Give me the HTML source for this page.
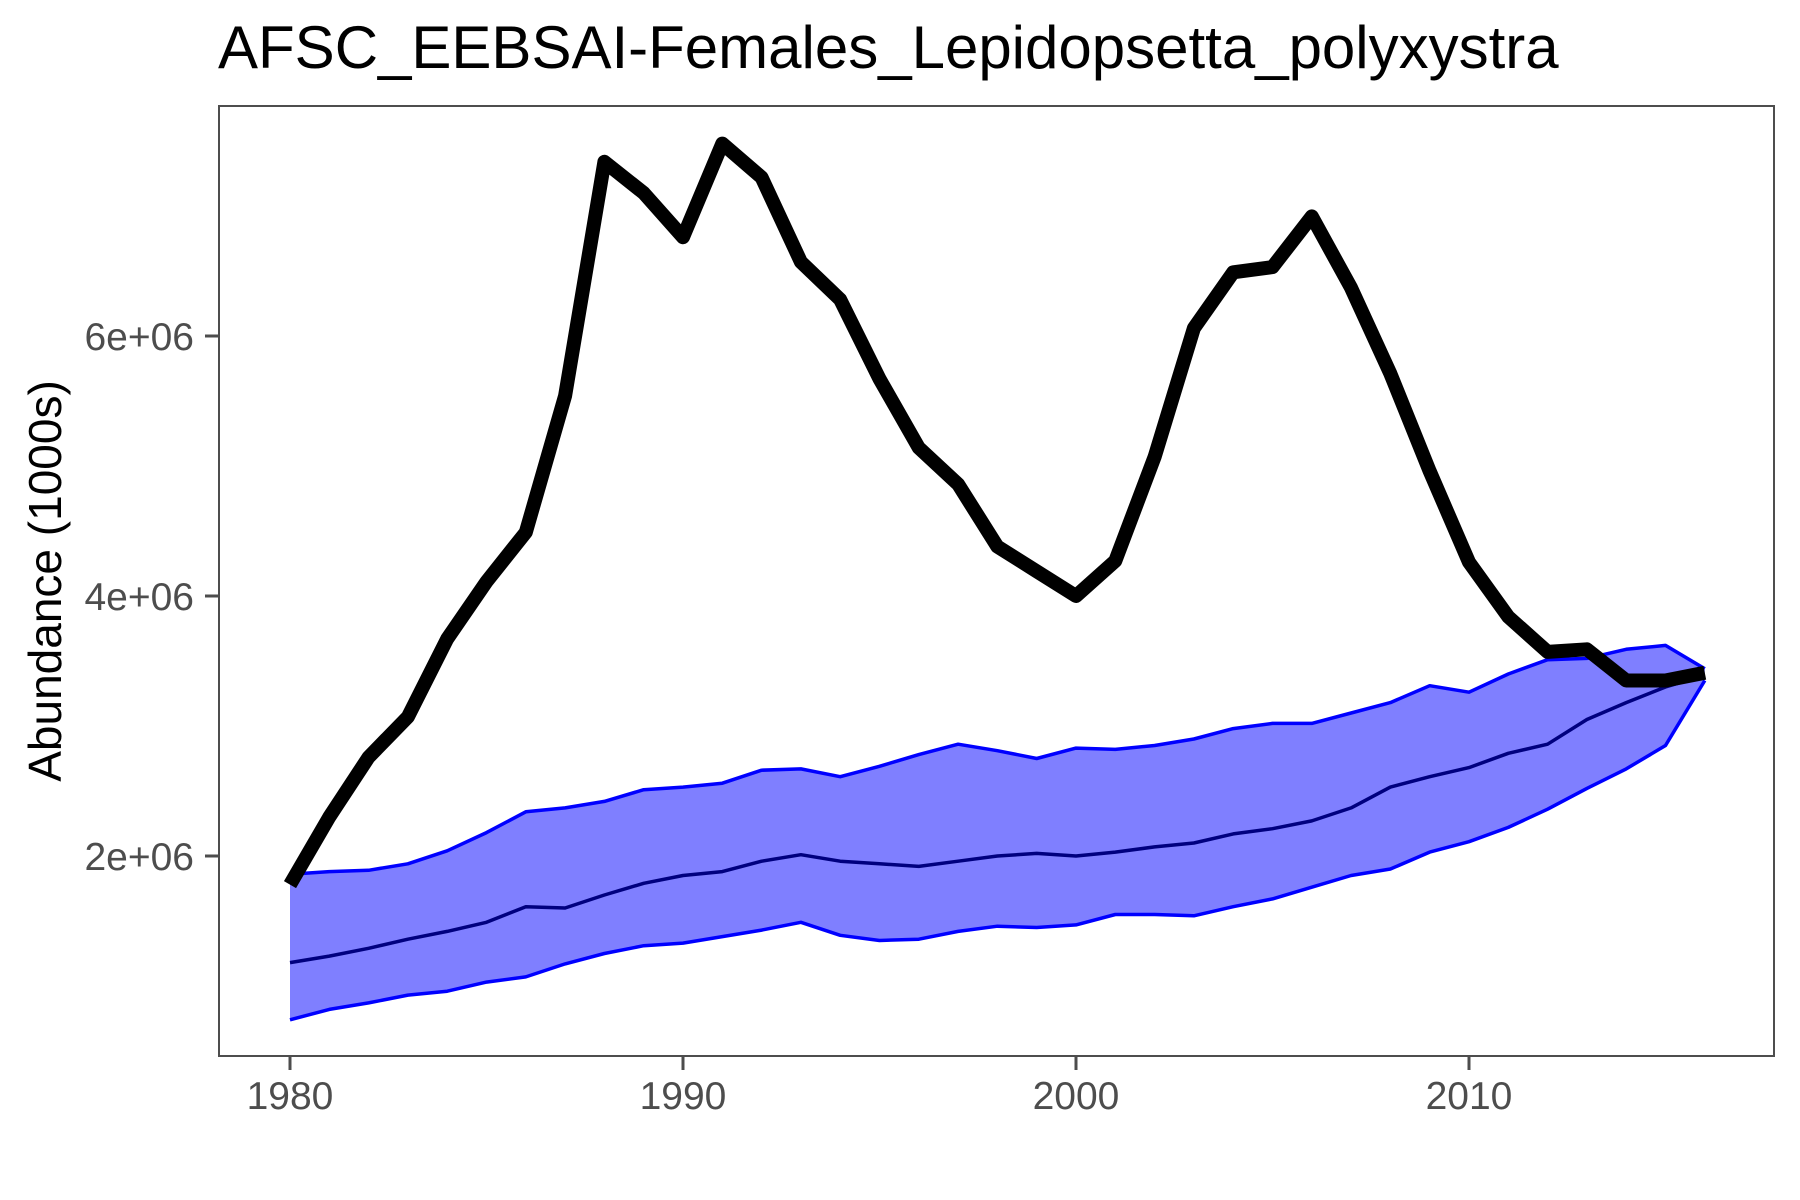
<!DOCTYPE html>
<html><head><meta charset="utf-8"><style>
html,body{margin:0;padding:0;background:#fff;}
svg{display:block;font-family:"Liberation Sans",Arial,sans-serif;}
</style></head><body>
<svg id="chart" width="1800" height="1200" viewBox="0 0 1800 1200">
<text x="218" y="68" font-size="60" fill="#000">AFSC_EEBSAI-Females_Lepidopsetta_polyxystra</text>
<rect x="219" y="106" width="1555" height="950" fill="#fff" stroke="#4d4d4d" stroke-width="2"/>
<g id="band"></g>
<g id="lines"></g>
<g id="yaxis"></g>
<g id="xaxis"></g>
<text transform="translate(61,581) rotate(-90)" text-anchor="middle" font-size="46" fill="#000">Abundance (1000s)</text>
</svg>
<script>
const years = [];
for (let y = 1980; y <= 2016; y++) years.push(y);
const abundance = [1.78,2.30,2.76,3.07,3.67,4.11,4.49,5.54,7.34,7.10,6.76,7.48,7.22,6.57,6.28,5.67,5.14,4.86,4.38,4.19,4.00,4.27,5.07,6.06,6.49,6.53,6.92,6.37,5.71,4.96,4.26,3.84,3.57,3.59,3.35,3.35,3.41];
const upper = [1.86,1.88,1.89,1.94,2.04,2.18,2.34,2.37,2.42,2.51,2.53,2.56,2.66,2.67,2.61,2.69,2.78,2.86,2.81,2.75,2.83,2.82,2.85,2.90,2.98,3.02,3.02,3.10,3.18,3.31,3.26,3.40,3.51,3.52,3.59,3.62,3.44];
const median = [1.18,1.23,1.29,1.36,1.42,1.49,1.61,1.60,1.70,1.79,1.85,1.88,1.96,2.01,1.96,1.94,1.92,1.96,2.00,2.02,2.00,2.03,2.07,2.10,2.17,2.21,2.27,2.37,2.53,2.61,2.68,2.79,2.86,3.05,3.18,3.30,3.39];
const lower = [0.74,0.82,0.87,0.93,0.96,1.03,1.07,1.17,1.25,1.31,1.33,1.38,1.43,1.49,1.39,1.35,1.36,1.42,1.46,1.45,1.47,1.55,1.55,1.54,1.61,1.67,1.76,1.85,1.90,2.03,2.11,2.22,2.36,2.52,2.67,2.85,3.35];
const yTicks = [2,4,6];
const yTickLabels = ["2e+06","4e+06","6e+06"];
const xTicks = [1980,1990,2000,2010];

const NS = "http://www.w3.org/2000/svg";
const X = yr => 290 + (yr - 1980) * 39.3;
const Y = v => 856 - (v - 2) * 130;
function mk(tag, attrs, parent){ const e=document.createElementNS(NS,tag); for(const k in attrs) e.setAttribute(k,attrs[k]); parent.appendChild(e); return e; }
const pts = arr => arr.map((v,i)=>X(years[i]).toFixed(1)+","+Y(v).toFixed(1));

const band = document.getElementById('band');
const poly = mk('polygon',{points: pts(upper).concat(pts(lower).reverse()).join(' '), fill:'#7f7fff', stroke:'none'}, band);



const lines = document.getElementById('lines');
const lu = mk('polyline',{points:pts(upper).join(' '),fill:'none',stroke:'#0000ff','stroke-width':3.5,'stroke-linejoin':'round'},lines);


const ll = mk('polyline',{points:pts(lower).join(' '),fill:'none',stroke:'#0000ff','stroke-width':3.5,'stroke-linejoin':'round'},lines);


const lm = mk('polyline',{points:pts(median).join(' '),fill:'none',stroke:'#00007f','stroke-width':3.5,'stroke-linejoin':'round'},lines);


const la = mk('polyline',{points:pts(abundance).join(' '),fill:'none',stroke:'#000','stroke-width':14,'stroke-linejoin':'round','stroke-linecap':'butt'},lines);



const ya = document.getElementById('yaxis');
yTicks.forEach((v,i)=>{
  const t = mk('line',{x1:205,x2:219,y1:Y(v),y2:Y(v),stroke:'#4d4d4d','stroke-width':3},ya);
  
  
  const l = mk('text',{x:194,y:Y(v)+14,'text-anchor':'end','font-size':39,fill:'#4d4d4d'},ya);
  l.textContent = yTickLabels[i];
  
  
});
const xa = document.getElementById('xaxis');
xTicks.forEach(v=>{
  const t = mk('line',{x1:X(v),x2:X(v),y1:1056,y2:1070,stroke:'#4d4d4d','stroke-width':3},xa);
  
  
  const l = mk('text',{x:X(v),y:1109,'text-anchor':'middle','font-size':39,fill:'#4d4d4d'},xa);
  l.textContent = v;
  
  
});
</script>
</body></html>
